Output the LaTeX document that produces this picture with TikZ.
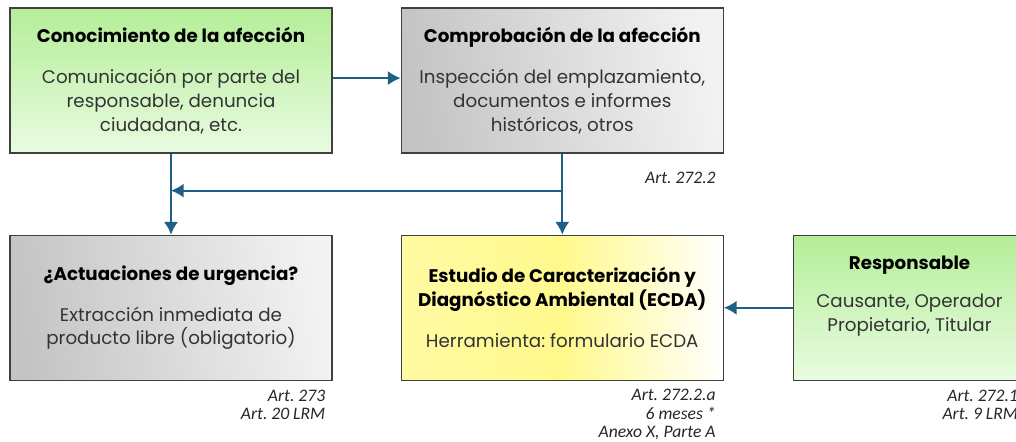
\documentclass[tikz,border=0pt]{standalone}
\usepackage{fontspec}
\setmainfont{Poppins}
\newfontfamily\notefont{Carlito}
\usetikzlibrary{arrows.meta,shapes,calc,positioning}
\definecolor{linkblue}{HTML}{1F5F87}
\definecolor{framegray}{HTML}{404040}
\definecolor{bodygray}{HTML}{333333}
\definecolor{leafgreen}{HTML}{B4EE98}
\definecolor{palegreen}{HTML}{E9FBE1}
\definecolor{lemon}{HTML}{FFF98C}
\tikzset{%
  >={Latex[width=10pt,length=9pt]},
  % Specifications for style of nodes:
            base/.style = {rectangle, draw=framegray, line width=0.9pt,
                           minimum width=8.05cm, minimum height=3.625cm,
                           text centered, align=center, inner sep=2pt,
                           text=bodygray, font=\fontsize{13}{17}\selectfont},
         greenbox/.style = {base, top color=leafgreen, bottom color=palegreen},
          graybox/.style = {base, left color=black!23, right color=black!5, shading angle=100},
        yellowbox/.style = {base, left color=lemon!80, right color=white, middle color=lemon},
             note/.style = {font=\notefont\itshape\fontsize{12.5}{13.2}\selectfont,
                            align=right, text=black!85, inner sep=0pt},
             link/.style = {draw=linkblue, line width=1.4pt},
}
\newcommand{\boxtitle}[1]{\textbf{\textcolor{black}{#1}}}
\frenchspacing

\begin{document}
\begin{tikzpicture}[node distance=1.7cm]
  \useasboundingbox (0,0) rectangle (25.4,-11.025);
  % Specification of nodes (position, etc.)
  \node (knowledge)   [greenbox] at (4.275,-2.0125)
                      {\boxtitle{Conocimiento de la afección}\\[12pt]
                       Comunicación por parte del\\ responsable, denuncia\\ ciudadana, etc.};
  \node (check)       [graybox, right=of knowledge]
                      {\boxtitle{Comprobación de la afección}\\[12pt]
                       Inspección del emplazamiento,\\ documentos e informes\\ históricos, otros};
  \node (urgency)     [graybox, below=2.025cm of knowledge]
                      {\boxtitle{¿Actuaciones de urgencia?}\\[12pt]
                       Extracción inmediata de\\ producto libre (obligatorio)};
  \node (ecda)        [yellowbox, below=2.025cm of check]
                      {\boxtitle{Estudio de Caracterización y}\\ \boxtitle{Diagnóstico Ambiental (ECDA)}\\[12pt]
                       Herramienta: formulario ECDA};
  \node (responsible) [greenbox, minimum width=5.8cm, right=1.725cm of ecda]
                      {\boxtitle{Responsable}\\[10pt]
                       Causante, Operador\\ Propietario, Titular\\[3pt]};

  % Legal references under the boxes
  \node (checkRef)    [note, anchor=north east] at ($(check.south east)+(-0.2,-0.45)$)
                      {Art. 272.2};
  \node (urgencyRef)  [note, anchor=north east] at ($(urgency.south east)+(-0.18,-0.22)$)
                      {Art. 273\\ Art. 20 LRM};
  \node (ecdaRef)     [note, anchor=north east] at ($(ecda.south east)+(-0.2,-0.2)$)
                      {Art. 272.2.a\\ 6 meses *\\ Anexo X, Parte A};
  \node (respRef)     [note, anchor=north east] at ($(responsible.south east)+(-0.2,-0.22)$)
                      {Art. 272.1\\ Art. 9 LRM};

  % Specification of lines between nodes specified above
  \coordinate (split) at ($(check.south)+(0,-0.925)$);
  \draw[->, link]   ($(knowledge.east)+(0,0.06)$) to ($(check.west)+(0,0.06)$);
  \draw[->, link]   (knowledge) to (urgency);
  \draw[link]       (check.south) to (split);
  \draw[->, link]   (split) to (ecda);
  \draw[->, link]   (split) to (split -| knowledge);
  \draw[->, link]   (responsible) to (ecda);
\end{tikzpicture}
\end{document}
